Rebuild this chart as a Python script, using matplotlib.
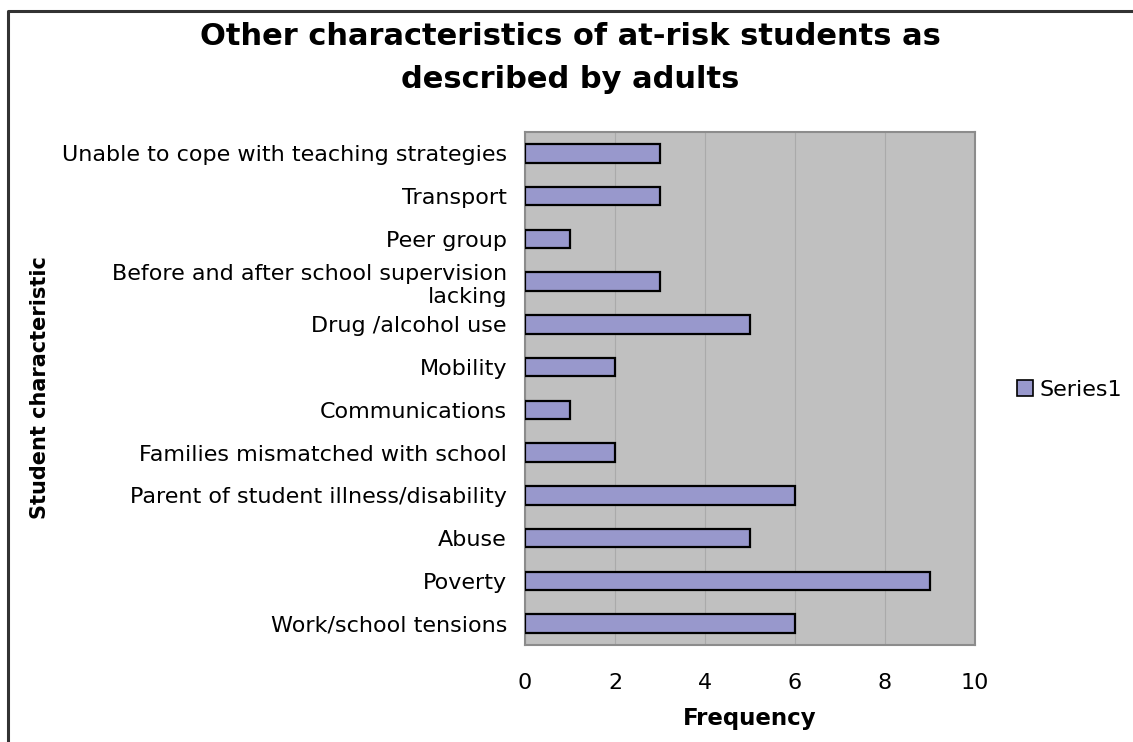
import matplotlib
matplotlib.use('Agg')
import matplotlib.pyplot as plt
from matplotlib.lines import Line2D
from matplotlib.patches import Patch

# categories from bottom to top
characteristics = [
    'Work/school tensions',
    'Poverty',
    'Abuse',
    'Parent of student illness/disability',
    'Families mismatched with school',
    'Communications',
    'Mobility',
    'Drug /alcohol use',
    'Before and after school supervision\nlacking',
    'Peer group',
    'Transport',
    'Unable to cope with teaching strategies',
]
frequency = [6, 9, 5, 6, 2, 1, 2, 5, 3, 1, 3, 3]
xticks = [0, 2, 4, 6, 8, 10]

W, H = 1133, 742
fig = plt.figure(figsize=(W / 100, H / 100), dpi=100)
ax = fig.add_axes([525 / W, 1 - 645 / H, 450 / W, 513 / H])

ax.set_facecolor('#c0c0c0')
ax.barh(range(len(characteristics)), frequency, height=0.43,
        color='#9898cc', edgecolor='black', linewidth=1.6, zorder=3)

ax.set_xlim(0, 10)
ax.set_ylim(-0.5, len(characteristics) - 0.5)
ax.set_xticks(xticks)
ax.set_xticklabels([str(t) for t in xticks], fontsize=16)
ax.set_yticks(range(len(characteristics)))
ax.set_yticklabels(characteristics, fontsize=16, linespacing=1.2)
ax.tick_params(axis='both', length=0, pad=13)
ax.tick_params(axis='x', pad=20)
ax.xaxis.grid(True, color='#aaaaaa', linewidth=0.8, zorder=0)
for s in ax.spines.values():
    s.set_color('#8c8c8c')
    s.set_linewidth(1.5)

ax.set_xlabel('Frequency', fontsize=16.5, fontweight='bold', labelpad=10)
fig.text(40 / W, 1 - 388 / H, 'Student characteristic', rotation=90,
         fontsize=15, fontweight='bold', ha='center', va='center')

fig.text(570 / W, 1 - 58 / H,
         'Other characteristics of at-risk students as\ndescribed by adults',
         fontsize=22, fontweight='bold', ha='center', va='center',
         linespacing=1.6)

fig.legend(handles=[Patch(facecolor='#9898cc', edgecolor='black',
                          linewidth=1.2, label='Series1')],
           loc='center left', bbox_to_anchor=(997 / W, 1 - 390 / H),
           frameon=False, fontsize=16, handlelength=0.7,
           handleheight=0.7, handletextpad=0.3)

# outer frame, open at the right and bottom
fig.add_artist(Line2D([8 / W, 8 / W, 1], [0, 1 - 11 / H, 1 - 11 / H],
                      transform=fig.transFigure, color='#333333', linewidth=2.2))

fig.savefig('out.png', dpi=100)
